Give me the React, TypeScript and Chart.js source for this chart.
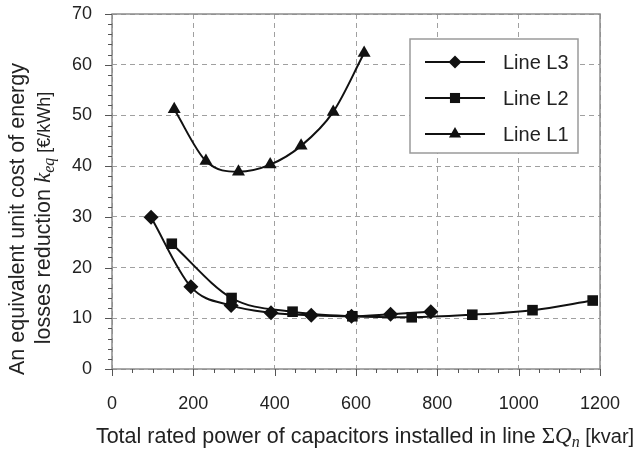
import React, { useEffect, useRef } from "react";
import { Chart, registerables } from "chart.js";

Chart.register(...registerables);

// ---- data ----
const seriesLabels = ["Line L3", "Line L2", "Line L1"];
const pointStyles = ["rectRot", "rect", "triangle"];

const l3Q = [96, 194, 293, 391, 490, 589, 685, 784];
const l3K = [29.9, 16.2, 12.5, 11.1, 10.6, 10.4, 10.8, 11.3];

const l2Q = [147, 294, 444, 591, 737, 886, 1034, 1182];
const l2K = [24.7, 14.0, 11.3, 10.4, 10.2, 10.7, 11.6, 13.5];

const l1Q = [153, 231, 311, 389, 465, 544, 620];
const l1K = [51.2, 41.0, 38.9, 40.3, 44.0, 50.7, 62.3];

const xMin = 0;
const xMax = 1200;
const xStep = 200;
const xMinorStep = 50;
const yMin = 0;
const yMax = 70;
const yStep = 10;
const yMinorStep = 2;

const yTitleLine1 = "An equivalent unit cost of energy";
const yTitleLine2 = "losses reduction ";
const xTitleMain = "Total rated power of capacitors installed in line ";

// ---- styles ----
const SANS = '"Liberation Sans", Arial, Helvetica, sans-serif';
const SERIF = '"Liberation Serif", "Times New Roman", serif';
const INK = "#111";

type Seg = { t: string; font: string; dy?: number };

function drawRich(ctx: CanvasRenderingContext2D, segs: Seg[], cx: number, baseline: number) {
  let w = 0;
  for (const s of segs) {
    ctx.font = s.font;
    w += ctx.measureText(s.t).width;
  }
  let x = cx - w / 2;
  ctx.textAlign = "left";
  ctx.textBaseline = "alphabetic";
  for (const s of segs) {
    ctx.font = s.font;
    ctx.fillText(s.t, x, baseline + (s.dy || 0));
    x += ctx.measureText(s.t).width;
  }
}

function drawMarker(ctx: CanvasRenderingContext2D, style: string, x: number, y: number, r: number) {
  ctx.beginPath();
  if (style === "rectRot") {
    ctx.moveTo(x, y - r);
    ctx.lineTo(x + r, y);
    ctx.lineTo(x, y + r);
    ctx.lineTo(x - r, y);
  } else if (style === "rect") {
    const s = r * 0.72;
    ctx.rect(x - s, y - s, 2 * s, 2 * s);
  } else {
    const a = -Math.PI / 2;
    for (let i = 0; i < 3; i++) {
      const ang = a + (i * 2 * Math.PI) / 3;
      const px = x + Math.cos(ang) * r;
      const py = y + Math.sin(ang) * r;
      if (i === 0) ctx.moveTo(px, py);
      else ctx.lineTo(px, py);
    }
  }
  ctx.closePath();
  ctx.fill();
}

const decorPlugin = {
  id: "decor",
  beforeDatasetsDraw(chart: any) {
    const { ctx, chartArea: a, scales } = chart;
    ctx.save();
    ctx.strokeStyle = "#8c8c8c";
    ctx.lineWidth = 1.5;
    ctx.strokeRect(a.left, a.top, a.right - a.left, a.bottom - a.top);
    ctx.strokeStyle = "#555";
    ctx.lineWidth = 1;
    ctx.beginPath();
    for (let v = yMin; v <= yMax; v += yMinorStep) {
      const y = Math.round(scales.y.getPixelForValue(v)) + 0.5;
      const len = v % yStep === 0 ? 7 : 4;
      ctx.moveTo(a.left - len, y);
      ctx.lineTo(a.left, y);
    }
    for (let v = xMin; v <= xMax; v += xMinorStep) {
      const x = Math.round(scales.x.getPixelForValue(v)) + 0.5;
      const len = v % xStep === 0 ? 7 : 4;
      ctx.moveTo(x, a.bottom);
      ctx.lineTo(x, a.bottom + len);
    }
    ctx.stroke();
    ctx.restore();
  },
  afterDraw(chart: any) {
    const { ctx } = chart;
    ctx.save();
    ctx.fillStyle = "#222";

    // x title
    drawRich(
      ctx,
      [
        { t: xTitleMain, font: `21.5px ${SANS}` },
        { t: "\u03A3", font: `23px ${SERIF}` },
        { t: "Q", font: `italic 23px ${SERIF}` },
        { t: "n", font: `italic 16px ${SERIF}`, dy: 4 },
        { t: " [kvar]", font: `20px ${SANS}` },
      ],
      365,
      443
    );

    // y title (rotated, two lines)
    ctx.save();
    ctx.translate(24, 219);
    ctx.rotate(-Math.PI / 2);
    drawRich(ctx, [{ t: yTitleLine1, font: `21.5px ${SANS}` }], 0, 0);
    ctx.restore();
    ctx.save();
    ctx.translate(50, 218);
    ctx.rotate(-Math.PI / 2);
    drawRich(
      ctx,
      [
        { t: yTitleLine2, font: `21.5px ${SANS}` },
        { t: "k", font: `italic 23px ${SERIF}` },
        { t: "eq", font: `italic 16px ${SERIF}`, dy: 4 },
        { t: " [\u20AC/kWh]", font: `18px ${SANS}` },
      ],
      0,
      0
    );
    ctx.restore();

    // legend box
    const bx = 410, by = 39, bw = 168, bh = 114;
    ctx.fillStyle = "#fff";
    ctx.fillRect(bx, by, bw, bh);
    ctx.strokeStyle = "#9a9a9a";
    ctx.lineWidth = 1.5;
    ctx.strokeRect(bx, by, bw, bh);
    const rows = [62, 98, 134];
    for (let i = 0; i < seriesLabels.length; i++) {
      const y = rows[i];
      ctx.strokeStyle = INK;
      ctx.lineWidth = 2;
      ctx.beginPath();
      ctx.moveTo(425, y);
      ctx.lineTo(485, y);
      ctx.stroke();
      ctx.fillStyle = INK;
      drawMarker(ctx, pointStyles[i], 455, y, i === 0 ? 6.5 : 7);
      ctx.fillStyle = "#222";
      ctx.font = `20px ${SANS}`;
      ctx.textAlign = "left";
      ctx.textBaseline = "middle";
      ctx.fillText(seriesLabels[i], 503, y + 1);
    }
    ctx.restore();
  },
};

const toPoints = (xs: number[], ys: number[]) => xs.map((x, i) => ({ x, y: ys[i] }));

export default function App() {
  const ref = useRef<HTMLCanvasElement | null>(null);

  useEffect(() => {
    if (!ref.current) return;
    const series = [
      { q: l3Q, k: l3K },
      { q: l2Q, k: l2K },
      { q: l1Q, k: l1K },
    ];
    const chart = new Chart(ref.current, {
      type: "line",
      data: {
        datasets: series.map((s, i) => ({
          label: seriesLabels[i],
          data: toPoints(s.q, s.k),
          borderColor: INK,
          backgroundColor: INK,
          borderWidth: 2,
          pointStyle: pointStyles[i] as any,
          pointRadius: 7.5,
          pointBackgroundColor: INK,
          pointBorderColor: INK,
          pointBorderWidth: 0,
          cubicInterpolationMode: "monotone" as const,
          fill: false,
        })),
      },
      options: {
        animation: false,
        responsive: false,
        maintainAspectRatio: false,
        events: [],
        layout: { padding: { top: 14, right: 42, left: 0, bottom: 0 } },
        plugins: {
          legend: { display: false },
          tooltip: { enabled: false },
        },
        scales: {
          x: {
            type: "linear",
            min: xMin,
            max: xMax,
            ticks: {
              stepSize: xStep,
              color: "#222",
              font: { family: SANS, size: 18 },
              padding: 24,
              maxRotation: 0,
              callback: (v: any) => String(v),
            },
            grid: { color: "#a0a0a0", lineWidth: 1, drawTicks: false },
            border: { display: false, dash: [5, 4] },
            afterFit: (s: any) => {
              s.height = 80;
              s.paddingLeft = 0;
              s.paddingRight = 0;
            },
          },
          y: {
            type: "linear",
            min: yMin,
            max: yMax,
            ticks: {
              stepSize: yStep,
              color: "#222",
              font: { family: SANS, size: 18 },
              padding: 20,
              callback: (v: any) => String(v),
            },
            grid: { color: "#a0a0a0", lineWidth: 1, drawTicks: false },
            border: { display: false, dash: [5, 4] },
            afterFit: (s: any) => {
              s.width = 112;
              s.paddingTop = 0;
              s.paddingBottom = 0;
            },
          },
        },
      },
      plugins: [decorPlugin],
    });
    return () => chart.destroy();
  }, []);

  return (
    <div style={{ position: "fixed", left: 0, top: 0, width: 642, height: 449, background: "#fff" }}>
      <canvas ref={ref} width={642} height={449} style={{ display: "block" }} />
    </div>
  );
}
